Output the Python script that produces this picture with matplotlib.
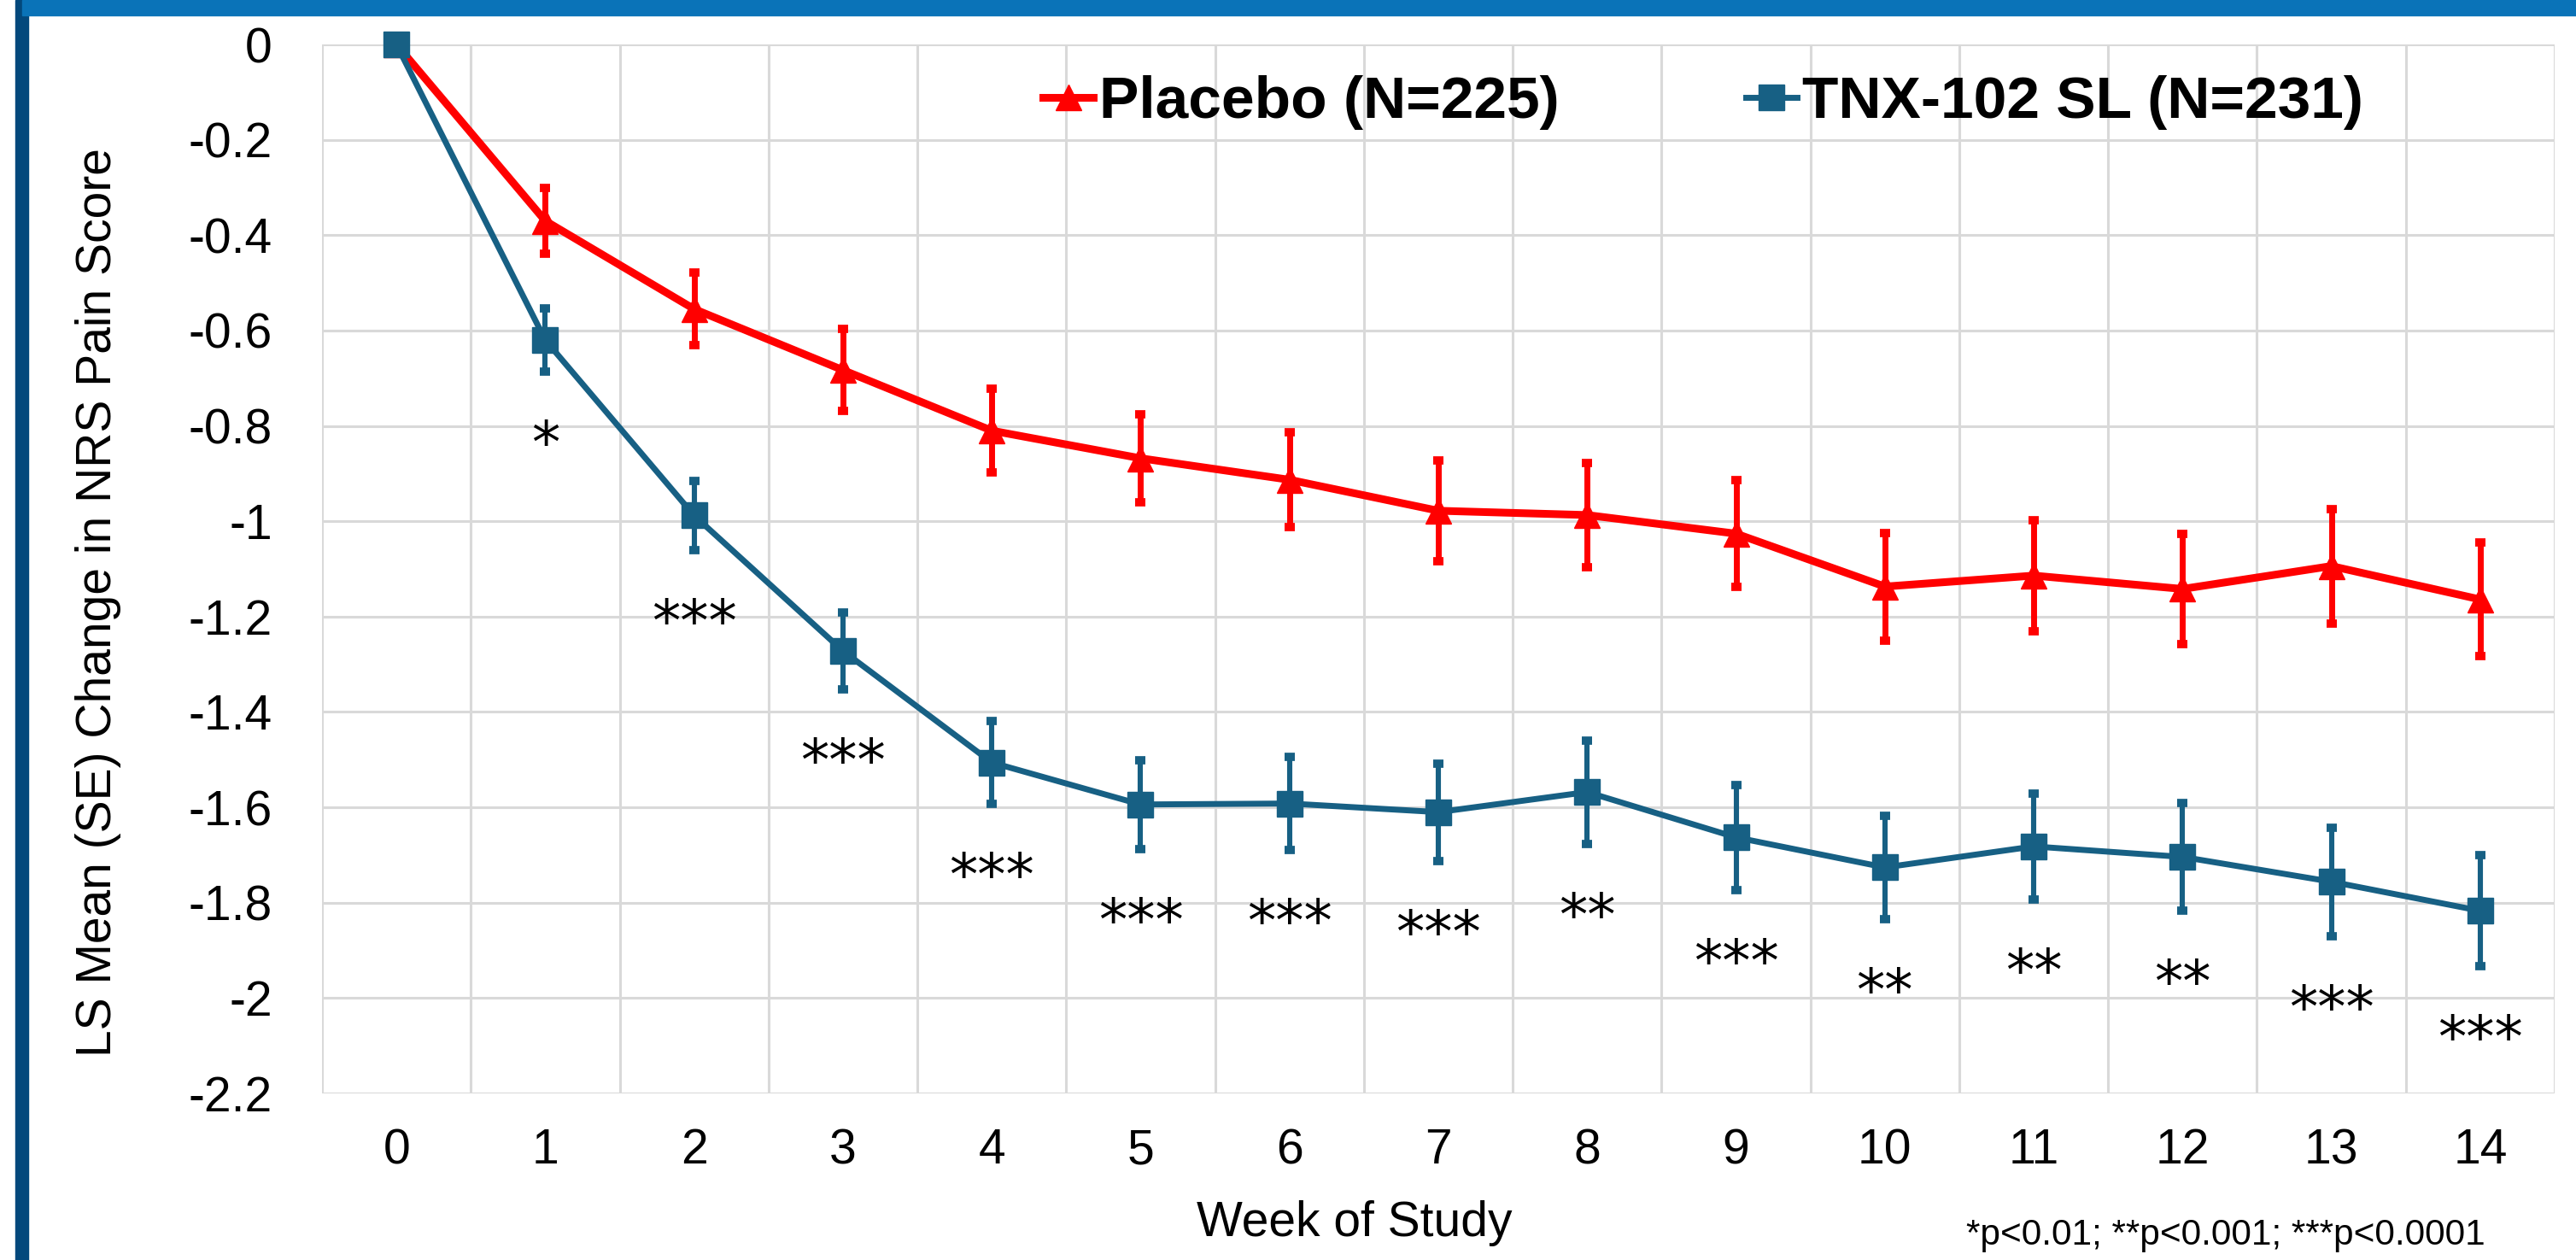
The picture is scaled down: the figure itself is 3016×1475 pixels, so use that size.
import matplotlib
matplotlib.use("Agg")
import matplotlib.pyplot as plt
from matplotlib.lines import Line2D
from matplotlib.patches import Rectangle

weeks = list(range(15))
week_labels = [str(w) for w in weeks]
placebo = [0, -0.37, -0.555, -0.683, -0.81, -0.868, -0.913, -0.978, -0.987,
           -1.026, -1.137, -1.114, -1.142, -1.094, -1.164]
placebo_se = [0, 0.069, 0.076, 0.086, 0.088, 0.093, 0.099, 0.106, 0.109,
              0.112, 0.113, 0.116, 0.116, 0.120, 0.119]
tnx = [0, -0.62, -0.988, -1.272, -1.506, -1.594, -1.592, -1.61, -1.568,
       -1.663, -1.726, -1.682, -1.704, -1.756, -1.817]
tnx_se = [0, 0.066, 0.073, 0.080, 0.087, 0.093, 0.098, 0.102, 0.108,
          0.110, 0.109, 0.111, 0.113, 0.114, 0.116]
stars = ['', '*', '***', '***', '***', '***', '***', '***', '**', '***',
         '**', '**', '**', '***', '***']
y_ticks = [0, -0.2, -0.4, -0.6, -0.8, -1, -1.2, -1.4, -1.6, -1.8, -2, -2.2]
y_tick_labels = ['0', '-0.2', '-0.4', '-0.6', '-0.8', '-1', '-1.2', '-1.4',
                 '-1.6', '-1.8', '-2', '-2.2']
placebo_label = 'Placebo (N=225)'
tnx_label = 'TNX-102 SL (N=231)'

RED = '#FF0000'
BLUE = '#176084'
GRID = '#D9D9D9'

plt.rcParams['font.family'] = ['Liberation Sans', 'DejaVu Sans']
plt.rcParams['axes.unicode_minus'] = False

W, H = 3016, 1475
fig = plt.figure(figsize=(W / 100, H / 100), dpi=100)
fig.patch.set_facecolor('white')

# frame decorations
fig.patches.append(Rectangle((18 / W, 0), 15 / W, 1, transform=fig.transFigure,
                             color='#03487C', zorder=0))
fig.patches.append(Rectangle((26 / W, 1 - 18 / H), 1 - 26 / W, 18 / H,
                             transform=fig.transFigure, color='#0A73B8', zorder=1))

ax = fig.add_axes([377 / W, 1 - 1280 / H, (2991 - 377) / W, (1280 - 52) / H])
ax.set_xlim(-0.5, 14.5)
ax.set_ylim(-2.2, 0)

# grid: horizontal at ticks, vertical between categories
for y in y_ticks:
    ax.axhline(y, color=GRID, lw=2.2, zorder=0)
for x in [w - 0.5 for w in weeks] + [14.5]:
    ax.axvline(x, color=GRID, lw=2.2, zorder=0)
for s in ax.spines.values():
    s.set_visible(False)

ax.errorbar(weeks, placebo, yerr=placebo_se, color=RED, lw=6.5, marker='^',
            ms=21, elinewidth=5, capsize=4.5, capthick=7, zorder=3,
            clip_on=False)
ax.errorbar(weeks, tnx, yerr=tnx_se, color=BLUE, lw=5, marker='s',
            ms=21.5, elinewidth=4.4, capsize=4.5, capthick=7, zorder=4,
            clip_on=False)

for w, v, se, s in zip(weeks, tnx, tnx_se, stars):
    if s:
        ax.text(w, v - se - 0.19, s, ha='center', va='baseline',
                fontsize=48, family='DejaVu Sans', color='black', zorder=5)

ax.set_xticks(weeks)
ax.set_xticklabels(week_labels)
ax.set_yticks(y_ticks)
ax.set_yticklabels(y_tick_labels)
ax.tick_params(axis='both', length=0, labelsize=41)
ax.tick_params(axis='x', pad=29)
ax.tick_params(axis='y', pad=42)

fig.text(1586 / W, 1 - 1447 / H, 'Week of Study', fontsize=41,
         ha='center', va='baseline')
fig.text(115 / W, 1 - 705 / H, 'LS Mean (SE) Change in NRS Pain Score',
         fontsize=41, rotation=90, ha='center', va='center')
fig.text(2606 / W, 1 - 1457 / H, '*p<0.01; **p<0.001; ***p<0.0001',
         fontsize=30.5, ha='center', va='baseline')

handles = [
    Line2D([0], [0], color=RED, lw=6.5, marker='^', ms=21),
    Line2D([0], [0], color=BLUE, lw=5, marker='s', ms=21.5),
]
leg = fig.legend(handles, [placebo_label, tnx_label], loc='center left',
                 bbox_to_anchor=(1221 / W, 1 - 120 / H), ncol=2,
                 frameon=False, borderpad=0, borderaxespad=0,
                 handlelength=0.85, handletextpad=0.1, columnspacing=3.15,
                 prop={'weight': 'bold', 'size': 50})

fig.savefig('out.png', dpi=100)
